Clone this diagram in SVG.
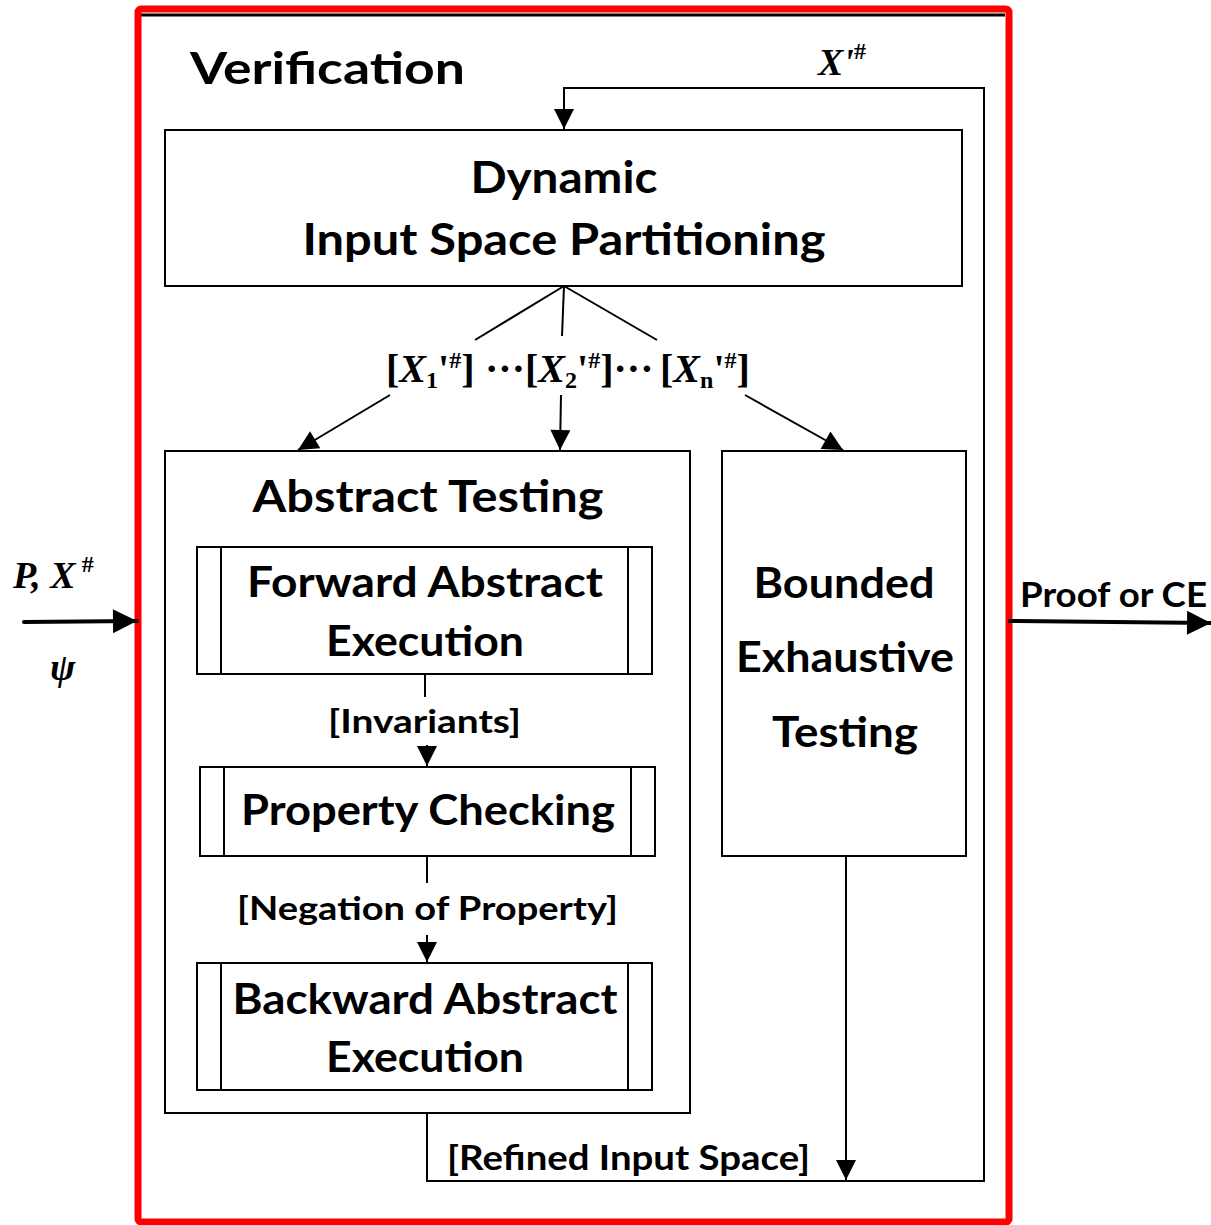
<svg xmlns="http://www.w3.org/2000/svg" width="1211" height="1225" viewBox="0 0 1211 1225">
<defs>
<marker id="ah" viewBox="0 0 10 10" refX="10" refY="5" markerWidth="22" markerHeight="20" markerUnits="userSpaceOnUse" orient="auto">
<path d="M0,0 L10,5 L0,10 Z" fill="#000"/>
</marker>
<marker id="ahB" viewBox="0 0 10 10" refX="10" refY="5" markerWidth="26" markerHeight="24" markerUnits="userSpaceOnUse" orient="auto">
<path d="M0,0 L10,5 L0,10 Z" fill="#000"/>
</marker>
</defs>
<style>
.box{fill:#fff;stroke:#000;stroke-width:2}
.ln{fill:none;stroke:#000;stroke-width:2}
.t{font-family:Lato,"Open Sans","Liberation Sans",sans-serif;font-weight:bold;fill:#000}
.m{font-family:"Liberation Serif","Times New Roman",serif;font-weight:bold;fill:#000}
</style>
<rect x="0" y="0" width="1211" height="1225" fill="#fff"/>
<g id="frame">
<line x1="140" y1="15" x2="1005" y2="15" stroke="#000" stroke-width="3"/>
<rect x="138" y="9" width="871" height="1213" rx="3" fill="none" stroke="#ff0000" stroke-width="7"/>
<text class="t" x="190" y="84" font-size="44" textLength="275" lengthAdjust="spacingAndGlyphs">Verification</text>
</g>
<g id="dynamic">
<rect class="box" x="165" y="130" width="797" height="156"/>
<text class="t" x="564" y="193" font-size="44" text-anchor="middle" textLength="187" lengthAdjust="spacingAndGlyphs">Dynamic</text>
<text class="t" x="564" y="255" font-size="44" text-anchor="middle" textLength="523" lengthAdjust="spacingAndGlyphs">Input Space Partitioning</text>
</g>
<g id="abstract-testing">
<rect class="box" x="165" y="451" width="525" height="662"/>
<text class="t" x="428" y="512" font-size="44" text-anchor="middle" textLength="351" lengthAdjust="spacingAndGlyphs">Abstract Testing</text>
</g>
<g id="forward">
<rect class="box" x="197" y="547" width="455" height="127"/>
<line class="ln" x1="221" y1="547" x2="221" y2="674"/>
<line class="ln" x1="628" y1="547" x2="628" y2="674"/>
<text class="t" x="425" y="597" font-size="42" text-anchor="middle" textLength="356" lengthAdjust="spacingAndGlyphs">Forward Abstract</text>
<text class="t" x="425" y="656" font-size="42" text-anchor="middle" textLength="198" lengthAdjust="spacingAndGlyphs">Execution</text>
</g>
<g id="property">
<rect class="box" x="200" y="767" width="455" height="89"/>
<line class="ln" x1="224" y1="767" x2="224" y2="856"/>
<line class="ln" x1="631" y1="767" x2="631" y2="856"/>
<text class="t" x="428" y="825" font-size="42" text-anchor="middle" textLength="374" lengthAdjust="spacingAndGlyphs">Property Checking</text>
</g>
<g id="backward">
<rect class="box" x="197" y="963" width="455" height="127"/>
<line class="ln" x1="221" y1="963" x2="221" y2="1090"/>
<line class="ln" x1="628" y1="963" x2="628" y2="1090"/>
<text class="t" x="425" y="1014" font-size="42" text-anchor="middle" textLength="385" lengthAdjust="spacingAndGlyphs">Backward Abstract</text>
<text class="t" x="425" y="1072" font-size="42" text-anchor="middle" textLength="198" lengthAdjust="spacingAndGlyphs">Execution</text>
</g>
<g id="bounded">
<rect class="box" x="722" y="451" width="244" height="405"/>
<text class="t" x="844" y="598" font-size="42" text-anchor="middle" textLength="181" lengthAdjust="spacingAndGlyphs">Bounded</text>
<text class="t" x="845" y="672" font-size="42" text-anchor="middle" textLength="218" lengthAdjust="spacingAndGlyphs">Exhaustive</text>
<text class="t" x="845" y="747" font-size="42" text-anchor="middle" textLength="146" lengthAdjust="spacingAndGlyphs">Testing</text>
</g>
<g id="connectors">
<polyline class="ln" points="427,1113 427,1181 984,1181 984,88 564,88 564,129" marker-end="url(#ah)"/>
<line class="ln" x1="846" y1="856" x2="846" y2="1180" marker-end="url(#ah)"/>
<line class="ln" x1="564" y1="286" x2="475" y2="340"/>
<line class="ln" x1="564" y1="286" x2="562" y2="336"/>
<line class="ln" x1="564" y1="286" x2="657" y2="340"/>
<line class="ln" x1="390" y1="395" x2="298" y2="450" marker-end="url(#ah)"/>
<line class="ln" x1="561" y1="395" x2="560" y2="450" marker-end="url(#ah)"/>
<line class="ln" x1="745" y1="395" x2="843" y2="450" marker-end="url(#ah)"/>
<line class="ln" x1="425" y1="674" x2="425" y2="697"/>
<line class="ln" x1="427" y1="745" x2="427" y2="766" marker-end="url(#ah)"/>
<line class="ln" x1="427" y1="856" x2="427" y2="883"/>
<line class="ln" x1="427" y1="935" x2="427" y2="962" marker-end="url(#ah)"/>
<line x1="24" y1="622" x2="137" y2="621" stroke="#000" stroke-width="4" stroke-linecap="round" marker-end="url(#ahB)"/>
<line x1="1008" y1="621" x2="1211" y2="623" stroke="#000" stroke-width="4" marker-end="url(#ahB)"/>
<text class="t" x="328" y="733" font-size="32" textLength="193" lengthAdjust="spacingAndGlyphs">[Invariants]</text>
<text class="t" x="237" y="920" font-size="32" textLength="381" lengthAdjust="spacingAndGlyphs">[Negation of Property]</text>
<text class="t" x="447" y="1170" font-size="34" textLength="363" lengthAdjust="spacingAndGlyphs">[Refined Input Space]</text>
<text class="t" x="1020" y="607" font-size="34" textLength="187" lengthAdjust="spacingAndGlyphs">Proof or CE</text>
<text class="m" x="386" y="382" font-size="40">[<tspan font-style="italic">X</tspan><tspan font-size="24" dy="6">1</tspan><tspan dy="-6">'</tspan><tspan font-size="24" dy="-14">#</tspan><tspan dy="14">]</tspan></text>
<text class="m" x="485" y="382" font-size="40">···[<tspan font-style="italic">X</tspan><tspan font-size="24" dy="6">2</tspan><tspan dy="-6">'</tspan><tspan font-size="24" dy="-14">#</tspan><tspan dy="14">]···</tspan></text>
<text class="m" x="660" y="382" font-size="40">[<tspan font-style="italic">X</tspan><tspan font-size="24" dy="6">n</tspan><tspan dy="-6">'</tspan><tspan font-size="24" dy="-14">#</tspan><tspan dy="14">]</tspan></text>
<text class="m" x="818" y="75" font-size="38" font-style="italic">X'<tspan font-size="24" dy="-16" font-style="normal">#</tspan></text>
<text class="m" x="13" y="588" font-size="38" font-style="italic">P, X<tspan font-size="24" dy="-16" dx="6" font-style="normal">#</tspan></text>
<text class="m" x="50" y="680" font-size="38" font-style="italic">ψ</text>
</g>
</svg>
